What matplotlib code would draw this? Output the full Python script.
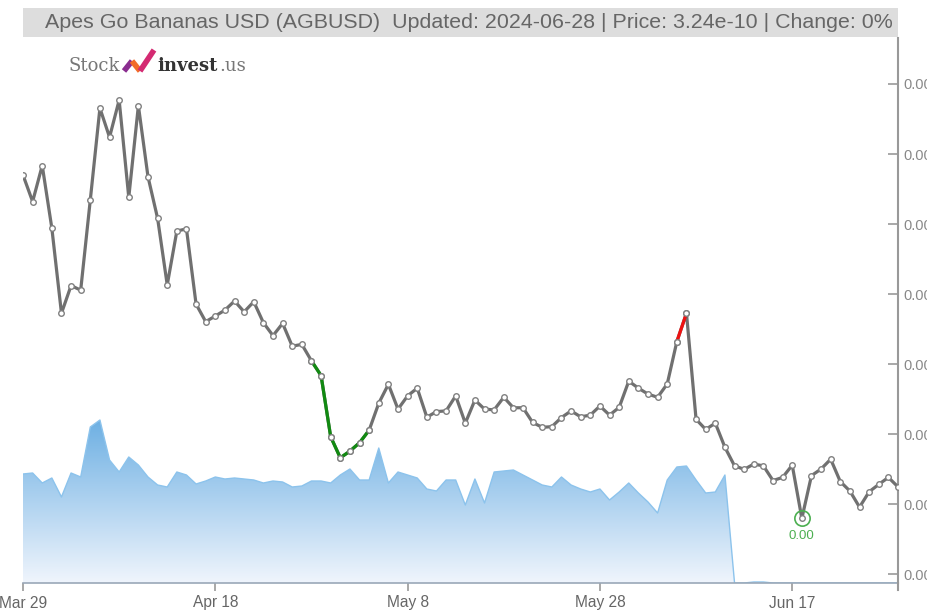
import numpy as np
import pandas as pd
import matplotlib
matplotlib.use("Agg")
import matplotlib.pyplot as plt
import matplotlib.dates as mdates
from matplotlib.patches import Rectangle
from matplotlib.lines import Line2D

# daily price, units of 1e-10 USD
prices = [4.140, 4.064, 4.167, 3.988, 3.745, 3.824, 3.811, 4.069, 4.331, 4.248,
          4.354, 4.076, 4.338, 4.135, 4.016, 3.826, 3.980, 3.986, 3.771, 3.721,
          3.737, 3.754, 3.780, 3.749, 3.778, 3.718, 3.681, 3.716, 3.651, 3.656,
          3.609, 3.567, 3.392, 3.332, 3.351, 3.375, 3.411, 3.488, 3.542, 3.471,
          3.509, 3.531, 3.448, 3.464, 3.466, 3.509, 3.431, 3.497, 3.471, 3.469,
          3.505, 3.475, 3.475, 3.433, 3.419, 3.421, 3.447, 3.466, 3.449, 3.454,
          3.480, 3.454, 3.476, 3.551, 3.531, 3.514, 3.505, 3.543, 3.664, 3.745,
          3.442, 3.413, 3.431, 3.362, 3.309, 3.299, 3.314, 3.309, 3.267, 3.276,
          3.311, 3.159, 3.281, 3.300, 3.328, 3.264, 3.237, 3.191, 3.235, 3.256,
          3.276, 3.249]

# daily volume (relative units)
volumes = [109, 110, 100, 105, 86, 110, 106, 156, 163, 123,
           111, 126, 118, 106, 98, 96, 111, 108, 99, 102,
           106, 104, 105, 104, 103, 100, 102, 101, 96, 97,
           102, 102, 100, 108, 114, 103, 103, 135, 100, 111,
           108, 105, 94, 92, 103, 103, 78, 104, 80, 111,
           112, 113, 108, 103, 98, 96, 106, 98, 94, 91,
           94, 83, 91, 100, 90, 81, 70, 103, 116, 117,
           103, 90, 91, 108, 0, 0, 1, 1, 0, 0,
           0, 0, 0, 0, 0, 0, 0, 0, 0, 0,
           0, 0]

dates = pd.date_range("2024-03-29", periods=len(prices))
tick_dates = pd.to_datetime(["2024-03-29", "2024-04-18", "2024-05-08", "2024-05-28", "2024-06-17"])
price_ticks = [3.0, 3.2, 3.4, 3.6, 3.8, 4.0, 4.2, 4.4]
green_run = (30, 36)
red_run = (68, 69)

title = "Apes Go Bananas USD (AGBUSD)  Updated: 2024-06-28 | Price: 3.24e-10 | Change: 0%"

W, H = 928, 610
fig = plt.figure(figsize=(W / 100, H / 100), dpi=100)
plt.rcParams['font.family'] = ['Liberation Sans', 'DejaVu Sans']

left, right, top, bottom = 23, 898, 38, 583
rect = [left / W, 1 - bottom / H, (right - left) / W, (bottom - top) / H]

xn = mdates.date2num(dates)
x0, x1 = xn[0], xn[-1]

# volume area, drawn underneath
axv = fig.add_axes(rect)
vol = np.array(volumes, dtype=float)
axv.set_ylim(0, 545)
axv.set_xlim(x0, x1)
poly = axv.fill_between(xn, 0, vol, facecolor="none", edgecolor="none")
grad = np.linspace(0, 1, 256).reshape(-1, 1)
c_top = np.array([0.43, 0.69, 0.89])
c_bot = np.array([0.94, 0.96, 0.99])
img = c_bot + (c_top - c_bot) * grad[:, :, None]
im = axv.imshow(img, extent=[x0, x1, 0, max(volumes)], origin="lower",
                aspect="auto", zorder=1)
im.set_clip_path(poly.get_paths()[0], transform=axv.transData)
axv.plot(xn, vol, color="#8cc3ec", lw=1, zorder=2)
axv.axis("off")

# price axis on top
ax = fig.add_axes(rect, sharex=axv)
ax.patch.set_visible(False)
ax.set_xlim(x0, x1)
ax.set_ylim(3.0 - 9 / 350, 3.0 + 536 / 350)

ax.plot(xn, prices, color="#707070", lw=2.3, marker="o", ms=4,
        mfc="white", mec="#808080", mew=1, zorder=3)
g0, g1 = green_run
ax.plot(xn[g0:g1 + 1], prices[g0:g1 + 1], color="#118a11", lw=2.3, zorder=4)
r0, r1 = red_run
ax.plot(xn[r0:r1 + 1], prices[r0:r1 + 1], color="#ee1111", lw=2.3, zorder=4)
ax.plot(xn[g0:g1 + 1], prices[g0:g1 + 1], ls="none", marker="o", ms=4,
        mfc="white", mec="#808080", mew=1, zorder=5)
ax.plot(xn[r0:r1 + 1], prices[r0:r1 + 1], ls="none", marker="o", ms=4,
        mfc="white", mec="#808080", mew=1, zorder=5)

# lowest close marker
imin = int(np.argmin(prices))
ax.plot(xn[imin], prices[imin], ls="none", marker="o", ms=11, mfc="none",
        mec="#4caf50", mew=1.2, zorder=6)
ax.annotate("0.00", (xn[imin], prices[imin]), xytext=(0, -17),
            textcoords="offset points", ha="center", va="bottom",
            color="#4caf50", fontsize=9.5)

for s in ["top", "left"]:
    ax.spines[s].set_visible(False)
ax.spines["right"].set_color("#999999")
ax.spines["right"].set_linewidth(1.5)
ax.spines["bottom"].set_color("#9aa8b8")
ax.spines["bottom"].set_linewidth(1.2)

ax.yaxis.tick_right()
ax.set_yticks(price_ticks)
ax.set_yticklabels(["0.00"] * len(price_ticks))
ax.tick_params(axis="y", direction="in", length=7, width=1.2, colors="#999999",
               labelcolor="#888888", labelsize=10.5, pad=4)

ax.set_xticks(mdates.date2num(tick_dates))
ax.set_xticklabels([d.strftime("%b %-d") for d in tick_dates])
ax.tick_params(axis="x", direction="out", length=6, width=1.2, colors="#999999",
               labelcolor="#666666", labelsize=11.2, pad=3)

fig.add_artist(Line2D([right / W, right / W], [1 - 590 / H, 1 - bottom / H],
                      color="#999999", lw=1.5))

# title bar
fig.add_artist(Rectangle((23 / W, 1 - 37 / H), (898 - 23) / W, 29 / H,
                         facecolor="#dddddd", edgecolor="none"))
fig.text(45 / W, 1 - 22 / H, title, ha="left", va="center", fontsize=15.4,
         color="#666666")

# logo
fig.text(69 / W, 1 - 71 / H, "Stock", ha="left", va="baseline", fontsize=13,
         color="#777777", family="DejaVu Serif")
fig.add_artist(Line2D([124 / W, 132 / W], [1 - 71 / H, 1 - 61 / H],
                      color="#8a2d8f", lw=4, solid_capstyle="butt"))
fig.add_artist(Line2D([132 / W, 140 / W], [1 - 61 / H, 1 - 71 / H],
                      color="#f26b2a", lw=4, solid_capstyle="butt"))
fig.add_artist(Line2D([140 / W, 154 / W], [1 - 71 / H, 1 - 50 / H],
                      color="#d42a72", lw=4, solid_capstyle="butt"))
fig.text(157 / W, 1 - 71 / H, "invest", ha="left", va="baseline", fontsize=13,
         color="#333333", family="DejaVu Serif", weight="bold")
fig.text(219 / W, 1 - 71 / H, ".us", ha="left", va="baseline", fontsize=13,
         color="#777777", family="DejaVu Serif")

fig.savefig("out.png", dpi=100)
